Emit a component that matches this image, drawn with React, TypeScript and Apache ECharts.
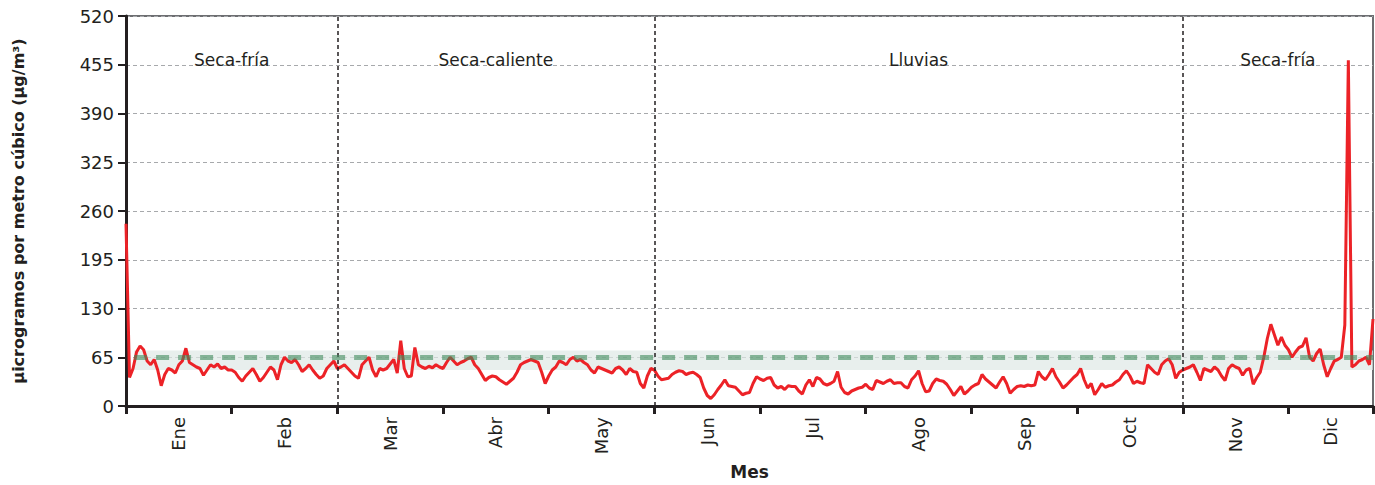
import React, { useEffect, useRef } from "react";
import * as echarts from "echarts";

const monthLabels = ["Ene", "Feb", "Mar", "Abr", "May", "Jun", "Jul", "Ago", "Sep", "Oct", "Nov", "Dic"];
const monthLabelDays = [15, 45, 75, 105, 135, 165, 195, 225, 255, 285, 315, 342];
const seasonNames = ["Seca-fría", "Seca-caliente", "Lluvias", "Seca-fría"];
const seasonBounds = [0, 60, 150, 300, 354];
const yTicks = [0, 65, 130, 195, 260, 325, 390, 455, 520];
const limitValue = 65;
const bandLow = 48;
const bandHigh = 74;

const ene = [243, 38, 50, 72, 80, 75, 60, 55, 62, 48, 27, 42, 50, 48, 44, 55, 60, 77, 58, 55, 52, 50, 41, 48, 55, 52, 56, 50, 52, 48];
const feb = [48, 45, 38, 33, 40, 45, 50, 42, 33, 38, 45, 52, 48, 35, 55, 65, 60, 58, 62, 55, 46, 50, 55, 48, 42, 37, 40, 50, 55, 60];
const mar = [50, 52, 55, 50, 45, 40, 37, 55, 60, 65, 48, 39, 50, 48, 50, 56, 62, 44, 87, 50, 39, 40, 78, 55, 52, 50, 53, 51, 55, 52];
const abr = [50, 58, 65, 60, 55, 58, 60, 63, 65, 55, 50, 42, 34, 38, 40, 39, 35, 32, 29, 33, 37, 45, 55, 58, 60, 62, 60, 58, 45, 30];
const may = [40, 48, 52, 60, 58, 55, 62, 65, 60, 62, 58, 55, 48, 44, 52, 50, 48, 46, 44, 50, 52, 48, 42, 50, 46, 45, 30, 24, 40, 50];
const jun = [48, 40, 35, 36, 37, 42, 45, 47, 46, 42, 44, 45, 42, 38, 24, 14, 10, 15, 22, 28, 35, 27, 26, 25, 20, 15, 17, 18, 30, 39];
const jul = [36, 34, 37, 38, 28, 24, 26, 22, 27, 26, 26, 20, 16, 28, 35, 26, 38, 36, 30, 28, 30, 33, 46, 25, 18, 16, 20, 22, 24, 25];
const ago = [29, 24, 22, 34, 32, 30, 33, 35, 30, 31, 31, 26, 24, 35, 40, 47, 30, 19, 20, 30, 36, 34, 33, 29, 22, 14, 20, 26, 16, 20];
const sep = [25, 28, 30, 42, 36, 32, 28, 24, 32, 39, 30, 17, 22, 26, 27, 26, 28, 27, 28, 46, 39, 35, 42, 50, 39, 32, 24, 28, 33, 38];
const oct = [42, 50, 35, 24, 30, 15, 22, 30, 25, 27, 28, 32, 35, 42, 47, 40, 30, 33, 31, 30, 55, 50, 45, 42, 55, 60, 63, 55, 37, 45];
const nov = [48, 50, 52, 55, 45, 34, 50, 48, 46, 52, 48, 40, 34, 50, 55, 52, 50, 41, 48, 50, 29, 38, 45, 65, 90, 109, 95, 81, 92, 81];
const dic = [75, 65, 72, 78, 80, 91, 65, 60, 70, 76, 55, 39, 50, 60, 62, 65, 108, 461, 52, 55, 60, 62, 65, 55, 116];

const daily = [...ene, ...feb, ...mar, ...abr, ...may, ...jun, ...jul, ...ago, ...sep, ...oct, ...nov, ...dic];

const FONT = "DejaVu Sans";

export default function App() {
  const ref = useRef<HTMLDivElement>(null);
  useEffect(() => {
    if (!ref.current) return;
    const chart = echarts.init(ref.current, null, { renderer: "svg" });
    const lastDay = seasonBounds[seasonBounds.length - 1];
    const labelMap: Record<number, string> = {};
    monthLabelDays.forEach((d, i) => (labelMap[d] = monthLabels[i]));

    chart.setOption({
      animation: false,
      backgroundColor: "#ffffff",
      grid: {
        left: 126,
        top: 16,
        right: 2,
        bottom: 78,
        show: true,
        borderColor: "#6d6e71",
        borderWidth: 2,
        backgroundColor: "transparent",
      },
      xAxis: [
        {
          type: "value",
          min: 0,
          max: lastDay,
          interval: 30,
          axisLine: { show: true, lineStyle: { color: "#231f20", width: 3 } },
          axisTick: { show: true, length: 8, lineStyle: { color: "#231f20", width: 3 } },
          axisLabel: { show: false },
          splitLine: { show: false },
          name: "Mes",
          nameLocation: "middle",
          nameGap: 57,
          nameTextStyle: { fontFamily: FONT, fontSize: 17, fontWeight: "bold", color: "#231f20" },
        },
        {
          type: "value",
          min: 0,
          max: lastDay,
          interval: 3,
          position: "bottom",
          axisLine: { show: false },
          axisTick: { show: false },
          splitLine: { show: false },
          axisLabel: {
            show: true,
            rotate: 90,
            margin: 11,
            fontFamily: FONT,
            fontSize: 18,
            color: "#231f20",
            formatter: (v: number) => labelMap[v] || "",
          },
        },
      ],
      yAxis: {
        type: "value",
        min: yTicks[0],
        max: yTicks[yTicks.length - 1],
        interval: 65,
        axisLine: { show: true, lineStyle: { color: "#231f20", width: 3 } },
        axisTick: { show: true, length: 8, lineStyle: { color: "#231f20", width: 2 } },
        axisLabel: { fontFamily: FONT, fontSize: 18, color: "#231f20", margin: 12 },
        splitLine: { show: true, lineStyle: { color: "#a7a9ac", type: [4, 3], width: 1 } },
        name: "µicrogramos por metro cúbico (µg/m³)",
        nameLocation: "middle",
        nameGap: 100,
        nameTextStyle: { fontFamily: FONT, fontSize: 16, fontWeight: "bold", color: "#231f20" },
      },
      series: [
        {
          type: "line",
          xAxisIndex: 0,
          data: daily.map((v, i) => [i, v]),
          showSymbol: false,
          symbol: "none",
          z: 2,
          lineStyle: { color: "#ec2227", width: 3 },
          markLine: {
            silent: true,
            symbol: "none",
            z: 4,
            label: { show: false },
            lineStyle: { color: "#231f20", type: [4, 3], width: 1.5 },
            data: seasonBounds.slice(1, -1).map((d) => ({ xAxis: d })),
          },
          markArea: {
            silent: true,
            z: 1,
            itemStyle: { color: "rgba(0,0,0,0)" },
            label: {
              show: true,
              position: "insideTop",
              distance: 35,
              fontFamily: FONT,
              fontSize: 17,
              color: "#231f20",
            },
            data: seasonNames.map((n, i) => [
              { name: n, xAxis: seasonBounds[i] },
              { xAxis: seasonBounds[i + 1] },
            ]),
          },
        },
        {
          type: "line",
          xAxisIndex: 0,
          data: [],
          z: 3,
          markArea: {
            silent: true,
            z: 1,
            itemStyle: { color: "rgba(222,232,230,0.7)" },
            data: [[{ xAxis: 2.3, yAxis: bandLow }, { xAxis: lastDay, yAxis: bandHigh }]],
          },
          markLine: {
            silent: true,
            symbol: "none",
            z: 5,
            label: { show: false },
            lineStyle: { color: "#3f8a5c", type: [13, 9], width: 5, opacity: 0.6 },
            data: [[{ coord: [2.3, limitValue] }, { coord: [lastDay, limitValue] }]],
          },
        },
      ],
    });
    return () => chart.dispose();
  }, []);
  return (
    <div
      ref={ref}
      style={{ position: "fixed", left: 0, top: 0, width: 1375, height: 485, background: "#fff" }}
    />
  );
}
